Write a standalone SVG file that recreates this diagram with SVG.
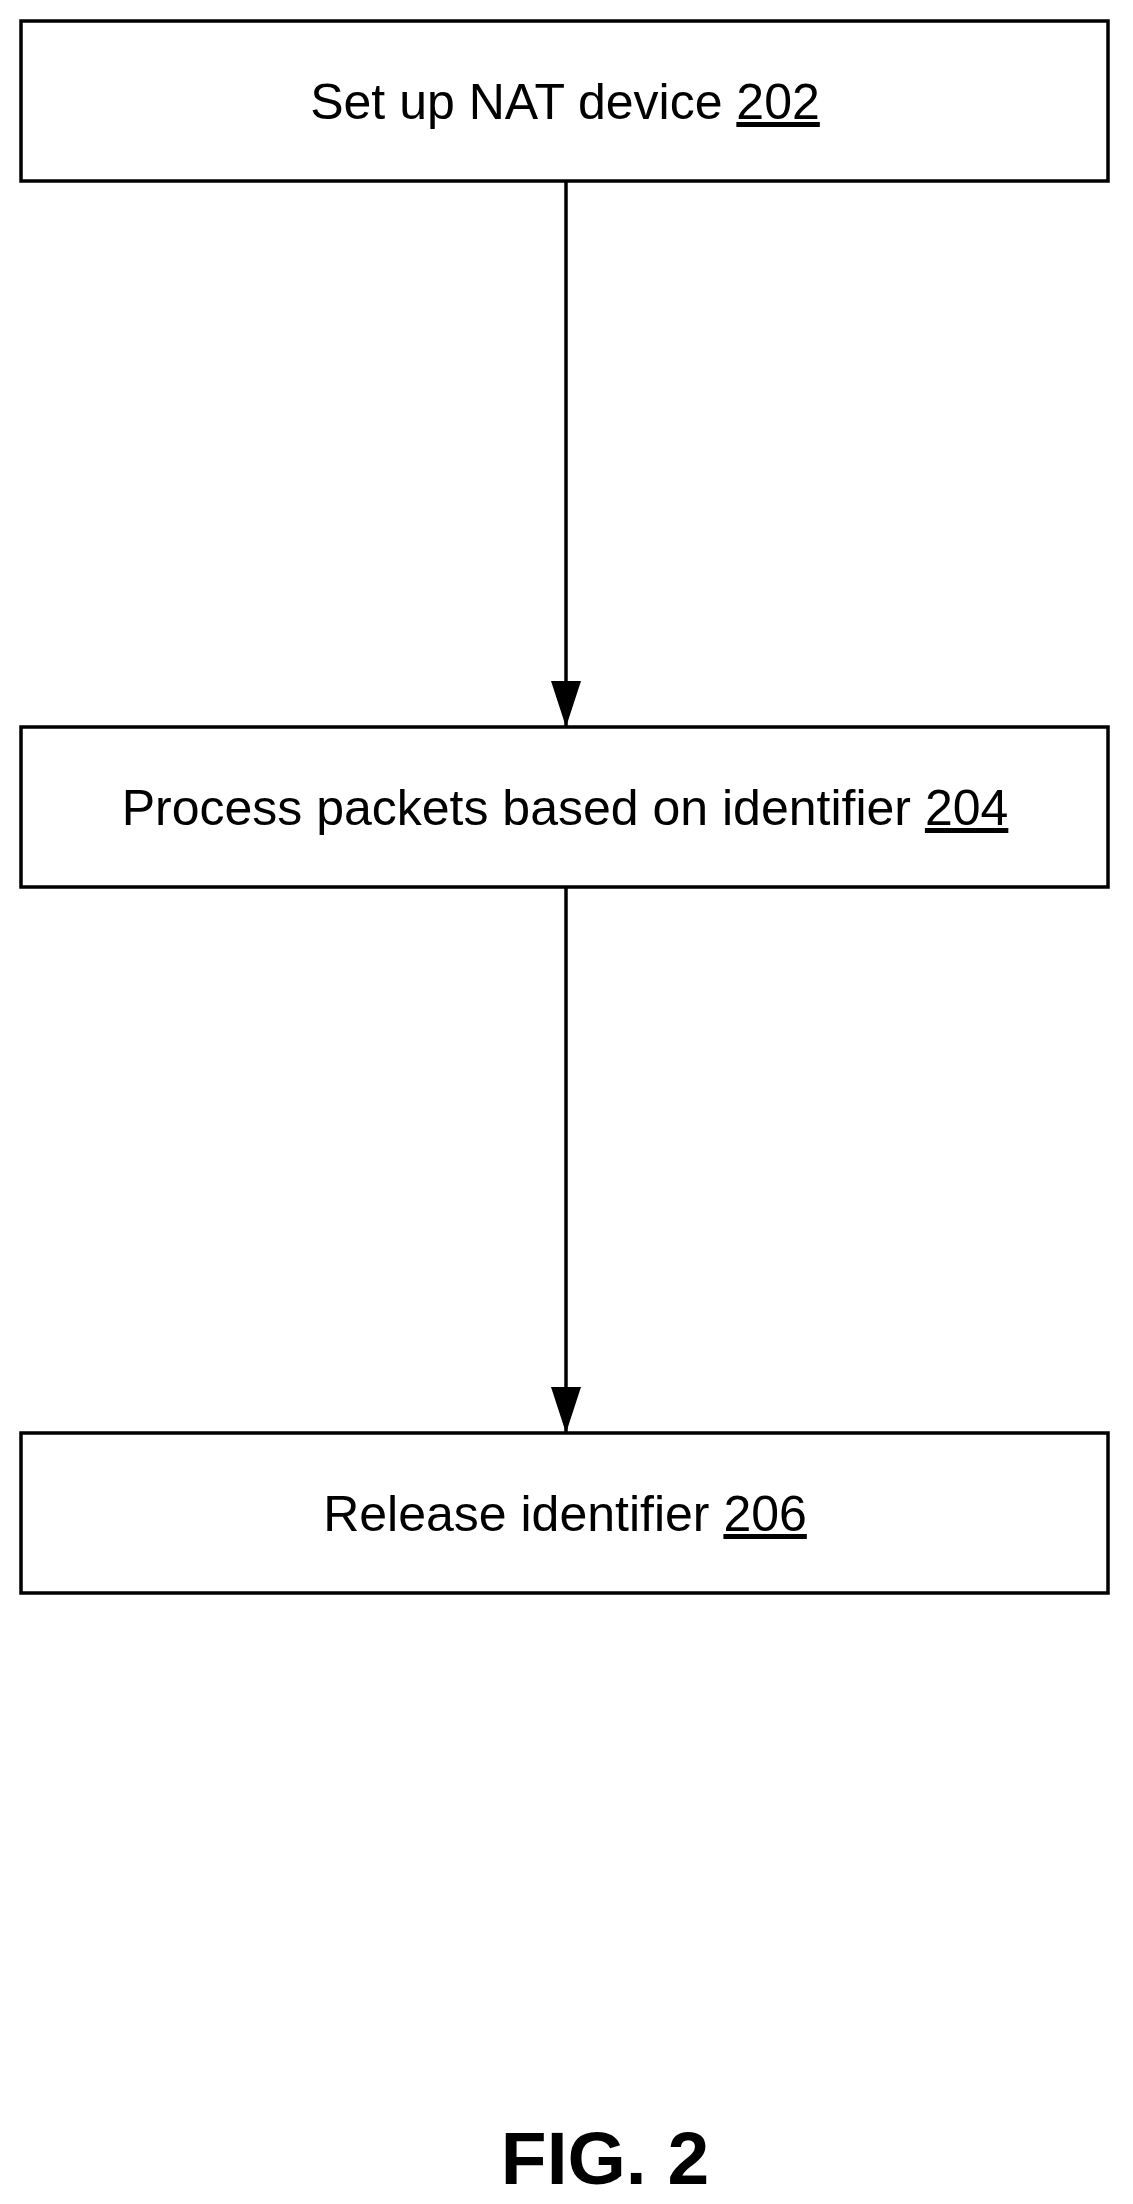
<svg xmlns="http://www.w3.org/2000/svg" width="1133" height="2204" viewBox="0 0 1133 2204">
<style>
.box{fill:#fff;stroke:#000;stroke-width:3.5}
.t{font-family:"Liberation Sans",Arial,sans-serif;font-size:50px;text-anchor:middle;fill:#000}
.u{text-decoration:underline}
.c{stroke:#000;stroke-width:3.5;fill:none}
</style>
<defs><marker id="a" markerWidth="46" markerHeight="30" refX="46" refY="15" orient="auto" markerUnits="userSpaceOnUse" viewBox="0 0 46 30"><path d="M0,0 L46,15 L0,30 Z" fill="#000"/></marker></defs>
<rect width="1133" height="2204" fill="#fff"/>
<g id="n202"><rect class="box" x="21" y="21" width="1087" height="160"/><text class="t" x="565" y="119">Set up NAT device <tspan class="u">202</tspan></text></g>
<g id="n204"><rect class="box" x="21" y="727" width="1087" height="160"/><text class="t" x="565" y="825">Process packets based on identifier <tspan class="u">204</tspan></text></g>
<g id="n206"><rect class="box" x="21" y="1433" width="1087" height="160"/><text class="t" x="565" y="1531">Release identifier <tspan class="u">206</tspan></text></g>
<g id="connectors">
<line class="c" x1="566" y1="181" x2="566" y2="727" marker-end="url(#a)"/>
<line class="c" x1="566" y1="887" x2="566" y2="1433" marker-end="url(#a)"/>
</g>
<text x="605" y="2184" style="font-family:'Liberation Sans',Arial,sans-serif;font-size:75px;font-weight:bold;text-anchor:middle">FIG. 2</text>
</svg>
